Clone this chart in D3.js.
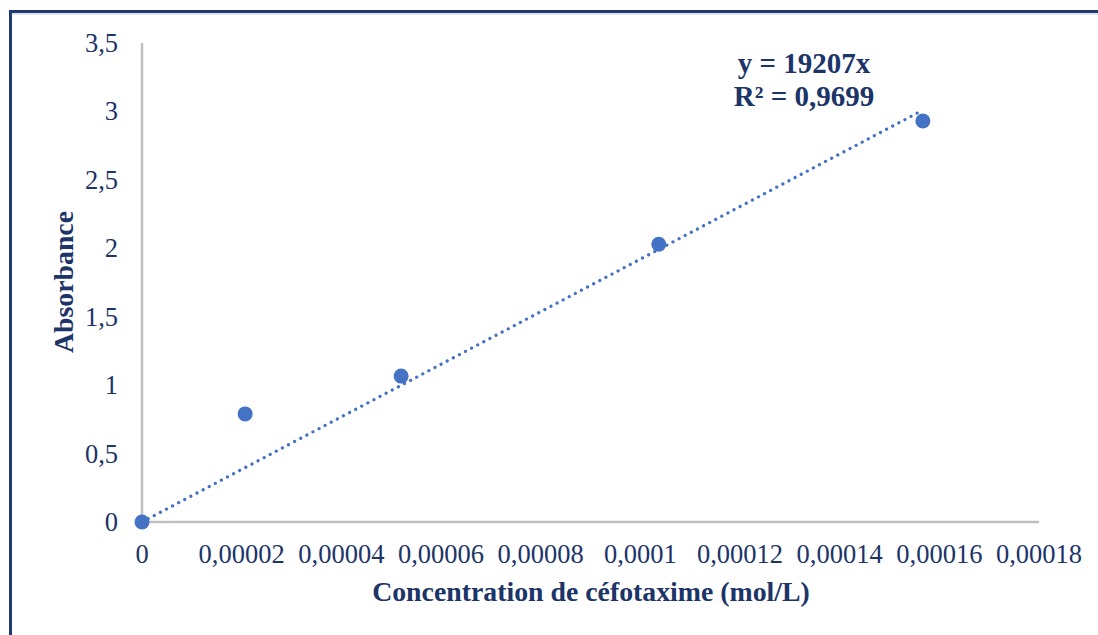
<!DOCTYPE html>
<html>
<head>
<meta charset="utf-8">
<script src="https://cdn.jsdelivr.net/npm/d3@7"></script>
<style>
  body { margin: 0; background: #fff; }
  svg text { font-family: "Liberation Serif", "Times New Roman", serif; fill: #1c3468; }
</style>
</head>
<body>
<div id="chart"></div>
<script>
// measured points (concentration mol/L, absorbance)
let conc = [0, 0.0000207, 0.000052, 0.0001037, 0.0001567];
let absorbance = [0, 0.79, 1.066, 2.03, 2.93];
let x_ticks = [0, 0.00002, 0.00004, 0.00006, 0.00008, 0.0001, 0.00012, 0.00014, 0.00016, 0.00018];
let y_ticks = [0, 0.5, 1, 1.5, 2, 2.5, 3, 3.5];
let slope = 19207;
let eq_lines = ["y = 19207x", "R² = 0,9699"];

let width = 1098, height = 635;
let margin = {left: 142, right: 59, top: 43, bottom: 113};
let point_color = "#4472c4";

let svg = d3.select("#chart").append("svg")
    .attr("width", width)
    .attr("height", height);

// frame (only top and left visible)
svg.append("rect").attr("x", 10).attr("y", 13).attr("width", width).attr("height", 2).attr("fill", "#e3e3e3");
svg.append("line").attr("x1", 10).attr("x2", width).attr("y1", 11.5).attr("y2", 11.5)
    .attr("stroke", "#1f3a70").attr("stroke-width", 3);
svg.append("line").attr("x1", 10.5).attr("x2", 10.5).attr("y1", 10).attr("y2", height)
    .attr("stroke", "#1f3a70").attr("stroke-width", 3);

let x = d3.scaleLinear().domain([0, 0.00018]).range([margin.left, width - margin.right]);
let y = d3.scaleLinear().domain([0, 3.5]).range([height - margin.bottom, margin.top]);

let fmt = function (d) { return String(+d.toFixed(6)).replace(".", ","); };

// axes lines
svg.append("line").attr("x1", x(0)).attr("x2", x(0)).attr("y1", y(3.5)).attr("y2", y(0))
    .attr("stroke", "#c0c0c0").attr("stroke-width", 2.5);
svg.append("line").attr("x1", x(0)).attr("x2", x(0.00018)).attr("y1", y(0)).attr("y2", y(0))
    .attr("stroke", "#c0c0c0").attr("stroke-width", 2.5);

// tick labels
svg.selectAll(".ytick").data(y_ticks).enter().append("text")
    .attr("class", "ytick")
    .attr("x", 118)
    .attr("y", function (d) { return y(d) + 9; })
    .attr("text-anchor", "end")
    .style("font-size", "26.5px")
    .text(fmt);

svg.selectAll(".xtick").data(x_ticks).enter().append("text")
    .attr("class", "xtick")
    .attr("x", function (d) { return x(d); })
    .attr("y", 563)
    .attr("text-anchor", "middle")
    .style("font-size", "26.5px")
    .text(fmt);

// axis titles
svg.append("text")
    .attr("transform", "translate(73,282) rotate(-90)")
    .attr("text-anchor", "middle")
    .style("font-size", "27.8px").style("font-weight", "bold")
    .text("Absorbance");

svg.append("text")
    .attr("x", 591).attr("y", 601)
    .attr("text-anchor", "middle")
    .style("font-size", "27.8px").style("font-weight", "bold")
    .text("Concentration de céfotaxime (mol/L)");

// trendline
let x_last = d3.max(conc);
svg.append("line")
    .attr("x1", x(0)).attr("y1", y(0))
    .attr("x2", x(x_last)).attr("y2", y(slope * x_last))
    .attr("stroke", point_color)
    .attr("stroke-width", 3.2)
    .attr("stroke-linecap", "round")
    .attr("stroke-dasharray", "0.1,6.8");

// points
svg.selectAll(".pt").data(conc).enter().append("circle")
    .attr("class", "pt")
    .attr("cx", function (d) { return x(d); })
    .attr("cy", function (d, i) { return y(absorbance[i]); })
    .attr("r", 7.5)
    .attr("fill", point_color);

// equation label
svg.selectAll(".eq").data(eq_lines).enter().append("text")
    .attr("class", "eq")
    .attr("x", 804)
    .attr("y", function (d, i) { return 73 + i * 33; })
    .attr("text-anchor", "middle")
    .style("font-size", "29px").style("font-weight", "bold")
    .text(function (d) { return d; });
</script>
</body>
</html>
